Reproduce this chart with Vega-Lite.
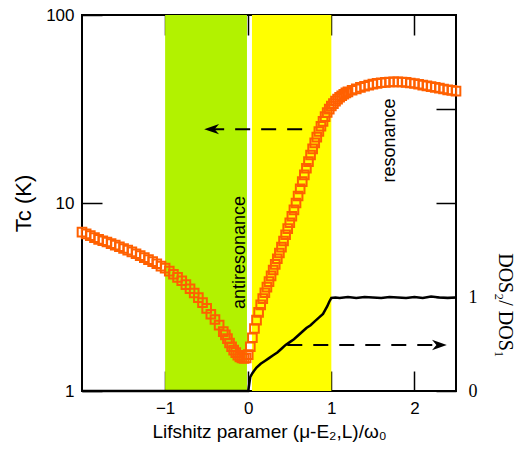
{
  "$schema": "https://vega.github.io/schema/vega-lite/v6.json",
  "width": 374,
  "height": 376,
  "autosize": "none",
  "padding": {"left": 82, "top": 15, "right": 65, "bottom": 61},
  "background": "white",
  "config": {
    "view": {"stroke": "black", "strokeWidth": 2},
    "axis": {"grid": false, "domain": false, "offset": -20, "tickSize": 20, "tickColor": "black", "tickWidth": 1.5, "labelColor": "black", "titleColor": "black", "labelFont": "Liberation Sans", "titleFont": "Liberation Sans", "titleFontWeight": "normal", "labelFontSize": 17}
  },
  "datasets": {
    "bands": [
      {"u": -1.0, "u2": -0.015, "band": "antiresonance"},
      {"u": 0.045, "u2": 1.0, "band": "resonance"}
    ],
    "tc": [
      {"u": -2.0, "v": 7.0}, {"u": -1.95, "v": 6.85}, {"u": -1.9, "v": 6.7}, {"u": -1.85, "v": 6.55}, {"u": -1.8, "v": 6.4},
      {"u": -1.75, "v": 6.3}, {"u": -1.7, "v": 6.2}, {"u": -1.65, "v": 6.08}, {"u": -1.6, "v": 5.97}, {"u": -1.55, "v": 5.85},
      {"u": -1.5, "v": 5.73}, {"u": -1.45, "v": 5.61}, {"u": -1.4, "v": 5.5}, {"u": -1.35, "v": 5.37}, {"u": -1.3, "v": 5.25},
      {"u": -1.25, "v": 5.12}, {"u": -1.2, "v": 5.0}, {"u": -1.15, "v": 4.88}, {"u": -1.1, "v": 4.75}, {"u": -1.05, "v": 4.62},
      {"u": -1.0, "v": 4.5}, {"u": -0.95, "v": 4.34}, {"u": -0.9, "v": 4.18}, {"u": -0.85, "v": 4.02}, {"u": -0.8, "v": 3.86},
      {"u": -0.75, "v": 3.68}, {"u": -0.7, "v": 3.5}, {"u": -0.65, "v": 3.32}, {"u": -0.6, "v": 3.14}, {"u": -0.55, "v": 2.95},
      {"u": -0.5, "v": 2.75}, {"u": -0.45, "v": 2.56}, {"u": -0.4, "v": 2.4}, {"u": -0.35, "v": 2.24}, {"u": -0.3, "v": 2.07},
      {"u": -0.275, "v": 1.99}, {"u": -0.25, "v": 1.9}, {"u": -0.225, "v": 1.8}, {"u": -0.2, "v": 1.72}, {"u": -0.175, "v": 1.65},
      {"u": -0.15, "v": 1.6}, {"u": -0.125, "v": 1.55}, {"u": -0.1, "v": 1.52}, {"u": -0.075, "v": 1.5}, {"u": -0.05, "v": 1.49},
      {"u": -0.025, "v": 1.5}, {"u": 0.0, "v": 1.56}, {"u": 0.025, "v": 1.72}, {"u": 0.05, "v": 1.92}, {"u": 0.075, "v": 2.15},
      {"u": 0.1, "v": 2.38}, {"u": 0.125, "v": 2.62}, {"u": 0.15, "v": 2.87}, {"u": 0.175, "v": 3.1}, {"u": 0.2, "v": 3.33},
      {"u": 0.225, "v": 3.57}, {"u": 0.25, "v": 3.82}, {"u": 0.275, "v": 4.1}, {"u": 0.3, "v": 4.4}, {"u": 0.325, "v": 4.72},
      {"u": 0.35, "v": 5.05}, {"u": 0.375, "v": 5.42}, {"u": 0.4, "v": 5.82}, {"u": 0.425, "v": 6.28}, {"u": 0.45, "v": 6.78},
      {"u": 0.475, "v": 7.3}, {"u": 0.5, "v": 7.85}, {"u": 0.525, "v": 8.5}, {"u": 0.55, "v": 9.2}, {"u": 0.575, "v": 10.0},
      {"u": 0.6, "v": 10.9}, {"u": 0.625, "v": 11.9}, {"u": 0.65, "v": 13.0}, {"u": 0.675, "v": 14.1}, {"u": 0.7, "v": 15.3},
      {"u": 0.725, "v": 16.6}, {"u": 0.75, "v": 18.0}, {"u": 0.775, "v": 19.4}, {"u": 0.8, "v": 20.9}, {"u": 0.825, "v": 22.4},
      {"u": 0.85, "v": 24.0}, {"u": 0.875, "v": 25.6}, {"u": 0.9, "v": 27.2}, {"u": 0.925, "v": 28.8}, {"u": 0.95, "v": 30.3},
      {"u": 0.975, "v": 31.6}, {"u": 1.0, "v": 32.8}, {"u": 1.025, "v": 33.8}, {"u": 1.05, "v": 34.8}, {"u": 1.075, "v": 35.7},
      {"u": 1.1, "v": 36.5}, {"u": 1.125, "v": 37.2}, {"u": 1.15, "v": 37.9}, {"u": 1.175, "v": 38.5}, {"u": 1.2, "v": 39.0},
      {"u": 1.25, "v": 39.8}, {"u": 1.3, "v": 40.5}, {"u": 1.35, "v": 41.2}, {"u": 1.4, "v": 41.8}, {"u": 1.45, "v": 42.4},
      {"u": 1.5, "v": 42.9}, {"u": 1.55, "v": 43.3}, {"u": 1.6, "v": 43.6}, {"u": 1.65, "v": 43.8}, {"u": 1.7, "v": 44.0},
      {"u": 1.75, "v": 44.1}, {"u": 1.8, "v": 44.1}, {"u": 1.85, "v": 44.0}, {"u": 1.9, "v": 43.8}, {"u": 1.95, "v": 43.5},
      {"u": 2.0, "v": 43.2}, {"u": 2.05, "v": 42.8}, {"u": 2.1, "v": 42.4}, {"u": 2.15, "v": 42.0}, {"u": 2.2, "v": 41.6},
      {"u": 2.25, "v": 41.2}, {"u": 2.3, "v": 40.8}, {"u": 2.35, "v": 40.4}, {"u": 2.4, "v": 40.0}, {"u": 2.45, "v": 39.7},
      {"u": 2.5, "v": 39.4}
    ],
    "dos": [
      {"u": -2.0, "v": 0}, {"u": 0.0, "v": 0}, {"u": 0.01, "v": 0.06}, {"u": 0.025, "v": 0.15}, {"u": 0.05, "v": 0.19},
      {"u": 0.075, "v": 0.22}, {"u": 0.1, "v": 0.25}, {"u": 0.15, "v": 0.29}, {"u": 0.2, "v": 0.32}, {"u": 0.25, "v": 0.35},
      {"u": 0.3, "v": 0.38}, {"u": 0.35, "v": 0.41}, {"u": 0.4, "v": 0.45}, {"u": 0.45, "v": 0.49}, {"u": 0.5, "v": 0.52},
      {"u": 0.55, "v": 0.55}, {"u": 0.6, "v": 0.59}, {"u": 0.65, "v": 0.63}, {"u": 0.7, "v": 0.67}, {"u": 0.75, "v": 0.7},
      {"u": 0.8, "v": 0.74}, {"u": 0.85, "v": 0.78}, {"u": 0.9, "v": 0.82}, {"u": 0.925, "v": 0.86}, {"u": 0.95, "v": 0.9},
      {"u": 0.975, "v": 0.95}, {"u": 1.0, "v": 0.99}, {"u": 1.05, "v": 0.995}, {"u": 1.1, "v": 0.99}, {"u": 1.2, "v": 1.0},
      {"u": 1.3, "v": 0.99}, {"u": 1.4, "v": 1.0}, {"u": 1.5, "v": 0.995}, {"u": 1.6, "v": 0.99}, {"u": 1.7, "v": 1.0},
      {"u": 1.8, "v": 0.995}, {"u": 1.9, "v": 0.99}, {"u": 2.0, "v": 1.0}, {"u": 2.1, "v": 0.99}, {"u": 2.2, "v": 1.005},
      {"u": 2.3, "v": 0.995}, {"u": 2.4, "v": 0.99}, {"u": 2.5, "v": 0.995}
    ]
  },
  "layer": [
    {
      "layer": [
        {
          "data": {"name": "bands"},
          "mark": {"type": "rect"},
          "encoding": {
            "x": {"field": "u", "type": "quantitative", "scale": {"domain": [-2, 2.5], "nice": false, "zero": false},
              "axis": {"orient": "bottom", "values": [-1, 0, 1, 2], "format": "d", "labelPadding": 9, "title": "Lifshitz paramer (μ-E₂,L)/ω₀", "titleFontSize": 19, "titlePadding": 6}},
            "x2": {"field": "u2"},
            "color": {"field": "band", "type": "nominal", "scale": {"domain": ["antiresonance", "resonance"], "range": ["#b2f200", "#ffff00"]}, "legend": null}
          }
        },
        {
          "data": {"name": "tc"},
          "mark": {"type": "point", "shape": "square", "filled": false, "stroke": "#ff6000", "strokeWidth": 2, "size": 75, "opacity": 1},
          "encoding": {
            "x": {"field": "u", "type": "quantitative"},
            "y": {"field": "v", "type": "quantitative", "scale": {"type": "log", "domain": [1, 100], "nice": false},
              "axis": {"orient": "left", "values": [1, 10, 100], "format": "d", "labelPadding": 8, "title": "Tc (K)", "titleFontSize": 22, "titlePadding": 10}}
          }
        },
        {
          "data": {"values": [{"u": -0.47, "u2": 0.76, "v": 24.7}]},
          "mark": {"type": "rule", "strokeDash": [15, 11], "strokeWidth": 2, "color": "black"},
          "encoding": {
            "x": {"field": "u", "type": "quantitative"},
            "x2": {"field": "u2"},
            "y": {"field": "v", "type": "quantitative"}
          }
        },
        {
          "data": {"values": [{"u": -0.44, "v": 24.7}]},
          "mark": {"type": "point", "shape": "M-1,0 L1,-0.7 L0.4,0 L1,0.7 Z", "filled": true, "color": "black", "size": 220, "opacity": 1},
          "encoding": {
            "x": {"field": "u", "type": "quantitative"},
            "y": {"field": "v", "type": "quantitative"}
          }
        },
        {
          "data": {"values": [{"u": -0.096, "v": 5.45, "label": "antiresonance"}, {"u": 1.7, "v": 21.5, "label": "resonance"}]},
          "mark": {"type": "text", "angle": 270, "font": "Liberation Sans", "fontSize": 18, "color": "black", "align": "center", "baseline": "middle"},
          "encoding": {
            "x": {"field": "u", "type": "quantitative"},
            "y": {"field": "v", "type": "quantitative"},
            "text": {"field": "label"}
          }
        }
      ]
    },
    {
      "layer": [
        {
          "data": {"name": "dos"},
          "mark": {"type": "line", "color": "black", "strokeWidth": 2.5},
          "encoding": {
            "x": {"field": "u", "type": "quantitative", "scale": {"domain": [-2, 2.5], "nice": false, "zero": false},
              "axis": {"orient": "top", "values": [-1, 0, 1, 2], "labels": false, "title": null}},
            "y": {"field": "v", "type": "quantitative", "scale": {"domain": [0, 4], "nice": false, "zero": false},
              "axis": {"orient": "right", "values": [0, 1, 2, 3], "format": "d", "labelPadding": 12, "labelExpr": "datum.value <= 1 ? datum.label : ''", "labelFont": "Liberation Serif", "labelFontSize": 18, "title": "DOS₂/ DOS₁", "titleFont": "Liberation Serif", "titleFontSize": 20, "titleBaseline": "middle", "titleY": 290, "titleX": 68, "titleAngle": 90}}
          }
        },
        {
          "data": {"values": [{"u": 0.47, "u2": 2.3, "v": 0.49}]},
          "mark": {"type": "rule", "strokeDash": [15, 11], "strokeWidth": 2, "color": "black"},
          "encoding": {
            "x": {"field": "u", "type": "quantitative"},
            "x2": {"field": "u2"},
            "y": {"field": "v", "type": "quantitative"}
          }
        },
        {
          "data": {"values": [{"u": 2.3, "v": 0.49}]},
          "mark": {"type": "point", "shape": "M1,0 L-1,-0.7 L-0.4,0 L-1,0.7 Z", "filled": true, "color": "black", "size": 220, "opacity": 1},
          "encoding": {
            "x": {"field": "u", "type": "quantitative"},
            "y": {"field": "v", "type": "quantitative"}
          }
        }
      ]
    }
  ],
  "resolve": {"scale": {"y": "independent"}, "axis": {"x": "independent"}}
}
